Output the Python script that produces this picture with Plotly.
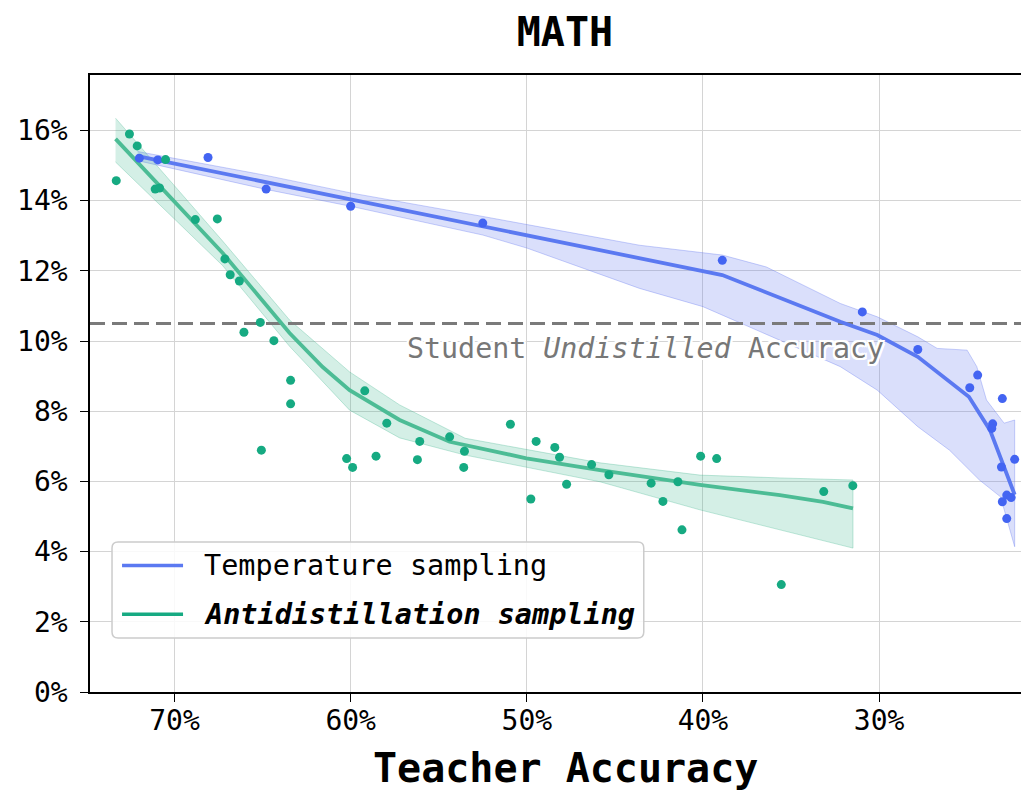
import plotly.graph_objects as go

# scatter points (teacher accuracy %, student accuracy %)
temp_x = [72.0, 70.95, 68.1, 64.8, 60.0, 52.5, 38.9, 30.95, 27.8, 24.4, 24.85, 23.0,
          23.55, 23.6, 22.3, 23.05, 23.0, 22.75, 22.5, 22.75]
temp_y = [15.21, 15.16, 15.23, 14.33, 13.84, 13.36, 12.30, 10.83, 9.76, 9.03, 8.67, 8.36,
          7.64, 7.51, 6.63, 6.41, 5.42, 5.61, 5.54, 4.94]

anti_x = [72.56, 72.12, 70.51, 73.31, 71.10, 70.85, 68.82, 67.57, 67.14, 66.84, 66.32,
          65.13, 66.06, 64.36, 63.41, 63.41, 65.07, 59.2, 57.95, 60.23, 59.89, 58.56,
          56.08, 56.21, 54.38, 53.54, 53.58, 50.93, 49.47, 48.41, 48.14, 49.77, 47.74,
          46.32, 45.34, 42.94, 41.42, 42.27, 41.19, 40.13, 39.22, 35.55, 33.14, 31.49]
anti_y = [15.90, 15.56, 15.17, 14.57, 14.33, 14.36, 13.46, 13.48, 12.34, 11.89, 11.71,
          10.53, 10.25, 10.01, 8.88, 8.21, 6.89, 8.58, 7.66, 6.65, 6.40, 6.72,
          7.14, 6.62, 7.27, 6.86, 6.40, 7.63, 7.14, 6.97, 6.69, 5.50, 5.92,
          6.48, 6.19, 5.95, 5.99, 5.43, 4.62, 6.72, 6.65, 3.06, 5.71, 5.88]

# smoothed trends
temp_fit_x = [72.1, 64.8, 60.0, 52.5, 43.6, 38.9, 32.2, 30.1, 27.8, 24.9, 23.7, 22.3]
temp_fit_y = [15.27, 14.52, 14.03, 13.27, 12.36, 11.88, 10.55, 10.17, 9.55, 8.41, 7.46, 5.62]
temp_hi_x = [72.1, 64.8, 60.0, 52.5, 43.6, 38.9, 36.4, 32.2, 30.1, 27.8, 26.7, 25.0, 24.45, 23.9, 22.9, 22.3]
temp_hi_y = [15.40, 14.72, 14.22, 13.55, 12.73, 12.45, 12.11, 11.07, 10.69, 10.12, 9.79, 9.74, 9.27, 8.32, 7.66, 7.75]
temp_lo_x = [72.1, 64.8, 60.0, 52.5, 50.0, 43.6, 40.0, 32.2, 30.1, 27.8, 26.0, 24.3, 23.1, 22.3]
temp_lo_y = [15.14, 14.32, 13.84, 13.02, 12.65, 11.5, 10.98, 9.27, 8.60, 7.56, 6.89, 6.04, 5.56, 4.14]

anti_fit_x = [73.35, 67.27, 63.47, 61.59, 60.06, 57.22, 54.38, 50.02, 45.85, 40.17, 35.63, 33.18, 31.48]
anti_fit_y = [15.76, 12.51, 10.23, 9.26, 8.60, 7.75, 7.13, 6.66, 6.32, 5.90, 5.61, 5.42, 5.23]
anti_band_x = [73.35, 67.27, 63.47, 60.06, 57.22, 53.5, 45.85, 40.17, 35.63, 31.48]
anti_hi_y = [16.35, 12.85, 10.6, 9.12, 8.18, 7.23, 6.53, 6.18, 6.10, 6.04]
anti_lo_y = [15.10, 12.15, 9.85, 8.03, 7.24, 6.75, 5.99, 5.19, 4.62, 4.10]

student_acc = 10.5
x_range = [74.8, 21.6]
y_range = [0, 17.58]
x_ticks = [70, 60, 50, 40, 30]
y_ticks = [0, 2, 4, 6, 8, 10, 12, 14, 16]

BLUE_PT = "#4364f2"
BLUE_LN = "#5b79f1"
GREEN_PT = "#16aa82"
GREEN_LN = "#4cbc95"
FONT = "DejaVu Sans Mono"

fig = go.Figure()

# bands
fig.add_trace(go.Scatter(x=temp_hi_x + temp_lo_x[::-1], y=temp_hi_y + temp_lo_y[::-1],
                         fill="toself", fillcolor="rgba(100,120,240,0.24)",
                         line=dict(color="rgba(100,120,240,0.35)", width=1),
                         mode="lines", showlegend=False, hoverinfo="skip"))
fig.add_trace(go.Scatter(x=anti_band_x + anti_band_x[::-1], y=anti_hi_y + anti_lo_y[::-1],
                         fill="toself", fillcolor="rgba(60,180,140,0.22)",
                         line=dict(color="rgba(60,180,140,0.3)", width=1),
                         mode="lines", showlegend=False, hoverinfo="skip"))

# student baseline
fig.add_trace(go.Scatter(x=x_range, y=[student_acc, student_acc], mode="lines",
                         line=dict(color="#7a7a7a", width=3, dash="15px,7px"),
                         showlegend=False, hoverinfo="skip"))

# trend lines
fig.add_trace(go.Scatter(x=temp_fit_x, y=temp_fit_y, mode="lines",
                         line=dict(color=BLUE_LN, width=3.8), showlegend=False))
fig.add_trace(go.Scatter(x=anti_fit_x, y=anti_fit_y, mode="lines",
                         line=dict(color=GREEN_LN, width=3.8), showlegend=False))

# points
fig.add_trace(go.Scatter(x=temp_x, y=temp_y, mode="markers",
                         marker=dict(color=BLUE_PT, size=9), showlegend=False))
fig.add_trace(go.Scatter(x=anti_x, y=anti_y, mode="markers",
                         marker=dict(color=GREEN_PT, size=9), showlegend=False))

# legend box (matplotlib style)
lx0, lx1, ly0, ly1 = 0.0235, 0.591, 0.0875, 0.243
rx, ry = 0.0064, 0.0097
box = (f"M{lx0+rx},{ly0} L{lx1-rx},{ly0} Q{lx1},{ly0} {lx1},{ly0+ry} "
       f"L{lx1},{ly1-ry} Q{lx1},{ly1} {lx1-rx},{ly1} L{lx0+rx},{ly1} "
       f"Q{lx0},{ly1} {lx0},{ly1-ry} L{lx0},{ly0+ry} Q{lx0},{ly0} {lx0+rx},{ly0} Z")
fig.add_shape(type="path", path=box, xref="paper", yref="paper",
              fillcolor="rgba(255,255,255,0.85)", line=dict(color="#cccccc", width=1.5))
for yy, col, txt in [(0.205, BLUE_LN, "Temperature sampling"),
                     (0.126, GREEN_PT, "<b><i>Antidistillation sampling</i></b>")]:
    fig.add_shape(type="line", xref="paper", yref="paper", x0=0.0342, x1=0.0993,
                  y0=yy, y1=yy, line=dict(color=col, width=3.5))
    fig.add_annotation(x=0.1195, y=yy, xref="paper", yref="paper", text=txt,
                       showarrow=False, xanchor="left", yanchor="middle",
                       font=dict(family=FONT, size=28.5, color="black"))

fig.add_annotation(x=56.9, y=9.8, text="Student <i>Undistilled</i> Accuracy",
                   showarrow=False, xanchor="left", yanchor="middle",
                   font=dict(family=FONT, size=28.3, color="#777777",
                             shadow="2px 2px 0 white, -2px -2px 0 white, 2px -2px 0 white, -2px 2px 0 white, 0 2px 0 white, 0 -2px 0 white, 2px 0 0 white, -2px 0 0 white"))

# x axis title as annotation to pin its position
fig.add_annotation(x=0.5075, y=-0.123, xref="paper", yref="paper",
                   text="<b>Teacher Accuracy</b>", showarrow=False,
                   xanchor="center", yanchor="middle",
                   font=dict(family=FONT, size=40, color="black"))

axis_common = dict(showline=True, linecolor="black", linewidth=1.5, mirror=True,
                   showgrid=True, gridcolor="#d4d4d4", gridwidth=1, zeroline=False,
                   ticks="outside", ticklen=8, tickcolor="black", tickwidth=1.2,
                   automargin=False,
                   tickfont=dict(family=FONT, size=28, color="black"))

fig.update_xaxes(range=x_range, tickvals=x_ticks, ticklabelstandoff=-5,
                 ticktext=[f"{t}%" for t in x_ticks], **axis_common)
fig.update_yaxes(range=y_range, tickvals=y_ticks, ticklabelstandoff=7,
                 ticktext=[f"{t}%" for t in y_ticks], **axis_common)

# page body has an 8px margin, so the figure is drawn 8px smaller to line up
fig.update_layout(
    width=1021, height=783,
    margin=dict(l=82, r=2, t=67, b=99, autoexpand=False),
    plot_bgcolor="white", paper_bgcolor="white",
    title=dict(text="<b>MATH</b>", x=0.5455, xanchor="center", y=0.969, yanchor="middle",
               yref="container", font=dict(family=FONT, size=40, color="black")),
    showlegend=False,
)

fig.write_html("out.html")
